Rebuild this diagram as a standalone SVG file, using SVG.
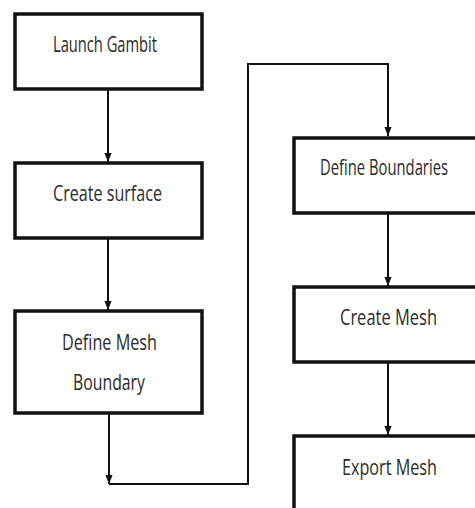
<svg xmlns="http://www.w3.org/2000/svg" width="475" height="508" viewBox="0 0 475 508">
<style>
.box{fill:#fff;stroke:#111;stroke-width:3.5}
.con{fill:none;stroke:#111;stroke-width:2}
text{font-family:"Open Sans","Liberation Sans",sans-serif;font-size:21px;fill:#2a2a2a}
</style>
<defs>
<marker id="ah" viewBox="0 0 10 10" refX="10" refY="5" markerWidth="9" markerHeight="9" markerUnits="userSpaceOnUse" orient="auto">
<path d="M0,1 L10,5 L0,9 z" fill="#111"/>
</marker>
</defs>
<rect width="475" height="508" fill="#fff"/>
<g id="connectors">
<line class="con" x1="108" y1="89" x2="108" y2="162" marker-end="url(#ah)"/>
<line class="con" x1="108" y1="238" x2="108" y2="310" marker-end="url(#ah)"/>
<line class="con" x1="109" y1="413" x2="109" y2="484" marker-end="url(#ah)"/>
<polyline class="con" points="109,484 248,484 248,64 388,64 388,136" marker-end="url(#ah)"/>
<line class="con" x1="388" y1="213" x2="388" y2="286" marker-end="url(#ah)"/>
<line class="con" x1="388" y1="362" x2="388" y2="435" marker-end="url(#ah)"/>
</g>
<g id="launch-gambit">
<rect class="box" x="15" y="14" width="187" height="75"/>
<text x="53" y="52" textLength="104" lengthAdjust="spacingAndGlyphs">Launch Gambit</text>
</g>
<g id="create-surface">
<rect class="box" x="15" y="163" width="187" height="75"/>
<text x="53" y="201" textLength="109" lengthAdjust="spacingAndGlyphs">Create surface</text>
</g>
<g id="define-mesh-boundary">
<rect class="box" x="15" y="311" width="187" height="102"/>
<text x="62" y="350" textLength="95" lengthAdjust="spacingAndGlyphs">Define Mesh</text>
<text x="73" y="390" textLength="72" lengthAdjust="spacingAndGlyphs">Boundary</text>
</g>
<g id="define-boundaries">
<rect class="box" x="294" y="138" width="220" height="75"/>
<text x="320" y="175" textLength="128" lengthAdjust="spacingAndGlyphs">Define Boundaries</text>
</g>
<g id="create-mesh">
<rect class="box" x="294" y="287" width="220" height="75"/>
<text x="340" y="325" textLength="97" lengthAdjust="spacingAndGlyphs">Create Mesh</text>
</g>
<g id="export-mesh">
<rect class="box" x="294" y="436" width="220" height="100"/>
<text x="342" y="475" textLength="95" lengthAdjust="spacingAndGlyphs">Export Mesh</text>
</g>
</svg>
